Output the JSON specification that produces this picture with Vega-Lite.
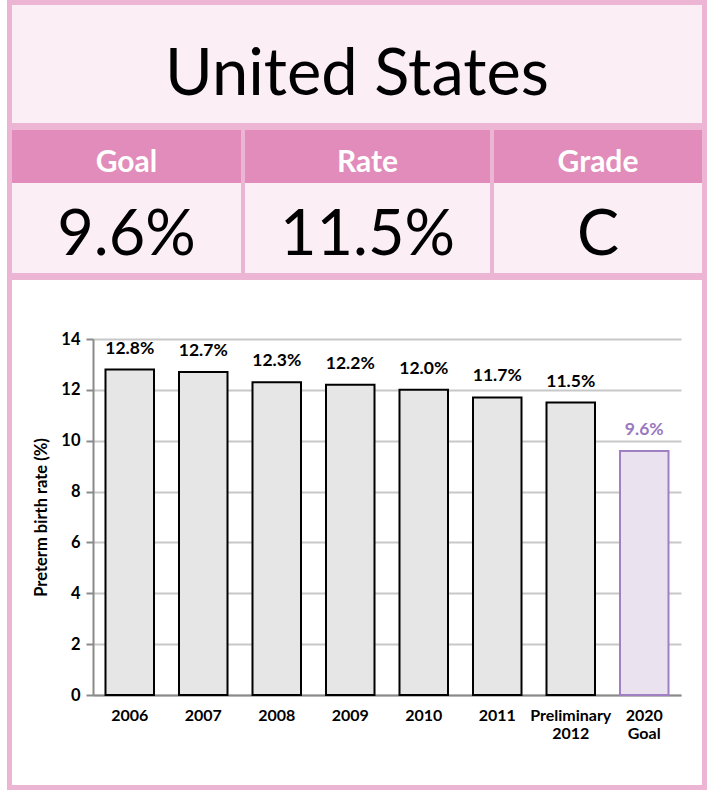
{
  "$schema": "https://vega.github.io/schema/vega-lite/v6.json",
  "background": "white",
  "padding": {"left": 7, "top": 0, "right": 0, "bottom": 0},
  "config": {"view": {"stroke": null}, "font": "Lato", "concat": {"spacing": 0}},
  "datasets": {
    "header": [{"name": "United States"}],
    "cards": [
      {"col": "Goal", "value": "9.6%"},
      {"col": "Rate", "value": "11.5%"},
      {"col": "Grade", "value": "C"}
    ],
    "rates": [
      {"year": "2006", "rate": 12.8, "label": "12.8%", "kind": "actual"},
      {"year": "2007", "rate": 12.7, "label": "12.7%", "kind": "actual"},
      {"year": "2008", "rate": 12.3, "label": "12.3%", "kind": "actual"},
      {"year": "2009", "rate": 12.2, "label": "12.2%", "kind": "actual"},
      {"year": "2010", "rate": 12.0, "label": "12.0%", "kind": "actual"},
      {"year": "2011", "rate": 11.7, "label": "11.7%", "kind": "actual"},
      {"year": "Preliminary|2012", "rate": 11.5, "label": "11.5%", "kind": "actual"},
      {"year": "2020|Goal", "rate": 9.6, "label": "9.6%", "kind": "goal"}
    ]
  },
  "spacing": 0,
  "vconcat": [
    {"width": 700, "height": 5, "view": {"fill": "#ecb5d4", "stroke": null}, "data": {"values": [{}]}, "mark": {"type": "text", "text": "", "fontSize": 0}},
    {
      "spacing": 0,
      "hconcat": [
        {"width": 5, "height": 275, "view": {"fill": "#ecb5d4", "stroke": null}, "data": {"values": [{}]}, "mark": {"type": "text", "text": "", "fontSize": 0}},
        {
          "spacing": 0,
          "vconcat": [
            {
              "width": 690, "height": 118,
              "view": {"fill": "#fbeef5", "stroke": null},
              "data": {"name": "header"},
              "mark": {"type": "text", "font": "Lato", "fontSize": 65, "baseline": "alphabetic", "dy": 31, "color": "black"},
              "encoding": {"text": {"field": "name"}}
            },
            {"width": 690, "height": 7, "view": {"fill": "#ecb5d4", "stroke": null}, "data": {"values": [{}]}, "mark": {"type": "text", "text": "", "fontSize": 0}},
            {
              "spacing": 0,
              "hconcat": [
                {
                  "spacing": 0,
                  "vconcat": [
                    {"width": 229, "height": 53, "view": {"fill": "#e18cba", "stroke": null}, "data": {"name": "cards"}, "transform": [{"filter": "datum.col === 'Goal'"}],
                     "mark": {"type": "text", "font": "Lato", "fontWeight": "bold", "fontSize": 30, "color": "white", "baseline": "alphabetic", "dy": 15.5},
                     "encoding": {"text": {"field": "col"}}},
                    {"width": 229, "height": 90, "view": {"fill": "#fbeef5", "stroke": null}, "data": {"name": "cards"}, "transform": [{"filter": "datum.col === 'Goal'"}],
                     "mark": {"type": "text", "font": "Lato", "fontSize": 63, "color": "black", "baseline": "alphabetic", "dy": 27},
                     "encoding": {"text": {"field": "value"}}}
                  ]
                },
                {"width": 4, "height": 143, "view": {"fill": "#ecb5d4", "stroke": null}, "data": {"values": [{}]}, "mark": {"type": "text", "text": "", "fontSize": 0}},
                {
                  "spacing": 0,
                  "vconcat": [
                    {"width": 245, "height": 53, "view": {"fill": "#e18cba", "stroke": null}, "data": {"name": "cards"}, "transform": [{"filter": "datum.col === 'Rate'"}],
                     "mark": {"type": "text", "font": "Lato", "fontWeight": "bold", "fontSize": 30, "color": "white", "baseline": "alphabetic", "dy": 15.5},
                     "encoding": {"text": {"field": "col"}}},
                    {"width": 245, "height": 90, "view": {"fill": "#fbeef5", "stroke": null}, "data": {"name": "cards"}, "transform": [{"filter": "datum.col === 'Rate'"}],
                     "mark": {"type": "text", "font": "Lato", "fontSize": 63, "color": "black", "baseline": "alphabetic", "dy": 27},
                     "encoding": {"text": {"field": "value"}}}
                  ]
                },
                {"width": 4, "height": 143, "view": {"fill": "#ecb5d4", "stroke": null}, "data": {"values": [{}]}, "mark": {"type": "text", "text": "", "fontSize": 0}},
                {
                  "spacing": 0,
                  "vconcat": [
                    {"width": 208, "height": 53, "view": {"fill": "#e18cba", "stroke": null}, "data": {"name": "cards"}, "transform": [{"filter": "datum.col === 'Grade'"}],
                     "mark": {"type": "text", "font": "Lato", "fontWeight": "bold", "fontSize": 30, "color": "white", "baseline": "alphabetic", "dy": 15.5},
                     "encoding": {"text": {"field": "col"}}},
                    {"width": 208, "height": 90, "view": {"fill": "#fbeef5", "stroke": null}, "data": {"name": "cards"}, "transform": [{"filter": "datum.col === 'Grade'"}],
                     "mark": {"type": "text", "font": "Lato", "fontSize": 63, "color": "black", "baseline": "alphabetic", "dy": 27},
                     "encoding": {"text": {"field": "value"}}}
                  ]
                }
              ]
            },
            {"width": 690, "height": 7, "view": {"fill": "#ecb5d4", "stroke": null}, "data": {"values": [{}]}, "mark": {"type": "text", "text": "", "fontSize": 0}}
          ]
        },
        {"width": 5, "height": 275, "view": {"fill": "#ecb5d4", "stroke": null}, "data": {"values": [{}]}, "mark": {"type": "text", "text": "", "fontSize": 0}}
      ]
    },
    {
      "spacing": 21,
      "hconcat": [
        {"width": 5, "height": 505, "view": {"fill": "#ecb5d4", "stroke": null}, "data": {"values": [{}]}, "mark": {"type": "text", "text": "", "fontSize": 0}},
        {
          "spacing": 0,
          "vconcat": [
            {"width": 10, "height": 51, "view": {"fill": "white", "stroke": null}, "data": {"values": [{}]}, "mark": {"type": "text", "text": "", "fontSize": 0}},
            {
              "width": 588, "height": 356,
              "data": {"name": "rates"},
              "encoding": {
                "x": {
                  "field": "year", "type": "nominal", "sort": null,
                  "scale": {"paddingInner": 0.34, "paddingOuter": 0.17},
                  "axis": {
                    "title": null, "labelAngle": 0, "labelFont": "Lato", "labelFontSize": 16, "labelFontWeight": "bold",
                    "labelColor": "black", "ticks": false, "tickSize": 0, "labelPadding": 12,
                    "labelExpr": "split(datum.label, '|')", "labelLineHeight": 18.5,
                    "domainColor": "#8a8a8a", "domainWidth": 2
                  }
                },
                "y": {
                  "field": "rate", "type": "quantitative",
                  "scale": {"domain": [0, 14]},
                  "axis": {
                    "values": [0, 2, 4, 6, 8, 10, 12, 14],
                    "title": "Preterm birth rate (%)", "titleFont": "Lato", "titleFontSize": 16.5, "titleFontWeight": "bold",
                    "titleColor": "black", "titlePadding": 11,
                    "labelFont": "Lato", "labelFontSize": 16.5, "labelFontWeight": "bold", "labelColor": "black", "labelPadding": 6,
                    "tickSize": 7, "tickColor": "#8a8a8a", "tickWidth": 2,
                    "domainColor": "#8a8a8a", "domainWidth": 2,
                    "gridColor": "#c8c8c8", "gridWidth": 2
                  }
                }
              },
              "layer": [
                {
                  "mark": {"type": "bar", "strokeWidth": 2},
                  "encoding": {
                    "fill": {"field": "kind", "type": "nominal", "scale": {"domain": ["actual", "goal"], "range": ["#e6e6e6", "#ebe2f0"]}, "legend": null},
                    "stroke": {"field": "kind", "type": "nominal", "scale": {"domain": ["actual", "goal"], "range": ["#000000", "#a07fc3"]}, "legend": null}
                  }
                },
                {
                  "mark": {"type": "text", "font": "Lato", "fontSize": 17.5, "fontWeight": "bold", "baseline": "alphabetic", "dy": -16},
                  "encoding": {
                    "text": {"field": "label"},
                    "color": {"field": "kind", "type": "nominal", "scale": {"domain": ["actual", "goal"], "range": ["#000000", "#9b78c0"]}, "legend": null}
                  }
                }
              ]
            }
          ]
        },
        {"width": 5, "height": 505, "view": {"fill": "#ecb5d4", "stroke": null}, "data": {"values": [{}]}, "mark": {"type": "text", "text": "", "fontSize": 0}}
      ]
    },
    {"width": 700, "height": 5, "view": {"fill": "#ecb5d4", "stroke": null}, "data": {"values": [{}]}, "mark": {"type": "text", "text": "", "fontSize": 0}}
  ]
}
